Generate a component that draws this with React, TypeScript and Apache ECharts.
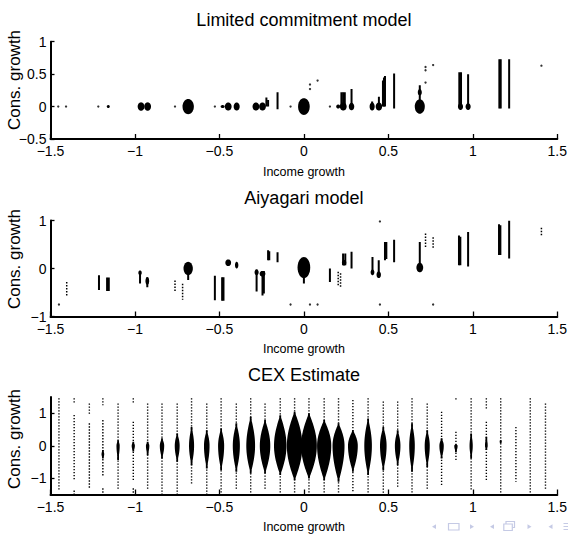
import { useEffect, useRef } from 'react';
import * as echarts from 'echarts';

// ---------- text ----------
const panelTitles = ['Limited commitment model', 'Aiyagari model', 'CEX Estimate'];
const xName = 'Income growth';
const yName = 'Cons. growth';

// ---------- panel 1: limited commitment ----------
// dots [x, y]
const lcDots = [
  [-1.454, 0], [-1.408, 0], [-1.217, 0], [-0.763, 0], [-0.527, 0], [-0.079, 0], [0.154, 0],
  [0.036, 0.34], [0.036, 0.27], [0.081, 0.4], [0.72, 0.61], [0.72, 0.56], [0.765, 0.64],
  [0.72, 0.37], [1.406, 0.63],
];
// blobs [x, y, halfWidth(x units), halfHeight(y units)]
const lcBlobs = [
  [-1.158, 0, 0.009, 0.023], [-0.964, 0, 0.02, 0.065], [-0.925, 0, 0.02, 0.065],
  [-0.685, 0, 0.0335, 0.117], [-0.481, 0, 0.012, 0.023], [-0.448, 0, 0.02, 0.062],
  [-0.398, 0, 0.0178, 0.062], [-0.284, 0, 0.02, 0.062], [-0.245, 0, 0.02, 0.062],
  [0, 0, 0.0345, 0.13], [0.203, 0, 0.0118, 0.031], [0.233, 0, 0.02, 0.062],
  [0.282, 0, 0.016, 0.058], [0.404, 0, 0.015, 0.062], [0.444, 0, 0.019, 0.062],
  [0.686, 0, 0.0296, 0.111], [0.686, 0.22, 0.0118, 0.05], [0.927, 0, 0.015, 0.052],
  [0.972, 0, 0.015, 0.052],
];
// bars [x, low, high]
const lcBars = [
  [-0.222, 0, 0.14], [-0.212, 0, 0.1], [-0.156, -0.04, 0.22], [0.222, 0, 0.22], [0.232, 0, 0.22],
  [0.242, 0, 0.22], [0.282, 0, 0.27], [0.404, 0, 0.08], [0.444, 0, 0.15], [0.468, 0, 0.4],
  [0.474, 0, 0.45], [0.48, 0, 0.47], [0.534, -0.03, 0.51], [0.686, 0, 0.33], [0.92, 0, 0.53],
  [0.93, 0, 0.53], [0.972, 0, 0.5], [1.157, -0.03, 0.73], [1.165, -0.03, 0.73],
  [1.215, -0.03, 0.73],
];

// ---------- panel 2: Aiyagari ----------
const aiDots = [
  [-1.45, -0.75], [-0.079, -0.75], [0.036, -0.75], [0.081, -0.75], [0.45, -0.75],
  [0.45, 0.98], [0.765, -0.75],
];
const aiBlobs = [
  [-0.685, 0, 0.0275, 0.14], [-0.448, 0.12, 0.017, 0.07], [-0.398, 0.07, 0.01, 0.07],
  [-0.97, -0.09, 0.01, 0.05], [-0.927, -0.26, 0.011, 0.08], [-0.28, -0.08, 0.012, 0.06],
  [-0.245, -0.11, 0.017, 0.06], [0, 0.02, 0.0375, 0.22], [0.238, 0.12, 0.013, 0.06],
  [0.406, -0.08, 0.011, 0.06], [0.443, -0.13, 0.013, 0.07], [0.686, 0.02, 0.02, 0.1],
];
const aiBars = [
  [-1.213, -0.45, -0.14], [-1.165, -0.47, -0.19], [-1.155, -0.47, -0.19],
  [-0.97, -0.31, -0.05], [-0.927, -0.39, -0.18], [-0.685, -0.24, -0.05],
  [-0.527, -0.66, -0.15], [-0.484, -0.67, -0.18], [-0.476, -0.67, -0.18],
  [-0.28, -0.48, -0.02], [-0.245, -0.56, -0.05], [-0.237, -0.52, -0.05],
  [-0.212, 0.17, 0.38], [-0.205, 0.17, 0.36], [-0.156, 0.13, 0.34], [0, -0.31, -0.1],
  [0.154, -0.28, 0], [0.232, 0.07, 0.31], [0.245, 0.07, 0.31], [0.282, 0, 0.35],
  [0.406, -0.07, 0.24], [0.443, -0.14, 0.17], [0.48, 0.17, 0.55], [0.488, 0.2, 0.55],
  [0.534, 0.13, 0.6], [0.686, 0.03, 0.55], [0.918, 0.07, 0.69], [0.926, 0.07, 0.66],
  [0.972, 0.04, 0.76], [1.155, 0.28, 0.92], [1.163, 0.28, 0.9], [1.215, 0.21, 1.0],
];
const aiDashes = [
  [-1.404, -0.59, -0.28], [-0.763, -0.47, -0.25], [-0.718, -0.65, -0.32],
  [0.203, -0.35, -0.07], [0.217, -0.38, -0.1], [0.72, 0.45, 0.73], [0.765, 0.42, 0.65],
  [1.406, 0.69, 0.85],
];

// ---------- panel 3: CEX ----------
const cexX = [
  -1.45, -1.36, -1.27, -1.19, -1.1, -1.01, -0.925, -0.84, -0.75, -0.665, -0.575, -0.49,
  -0.4, -0.315, -0.23, -0.14, -0.055, 0.03, 0.12, 0.205, 0.29, 0.38, 0.47, 0.555, 0.64,
  0.73, 0.815, 0.9, 0.99, 1.08, 1.165, 1.255, 1.34, 1.43,
];
const cexSegments = [
  [[-1.36, 1.46]],
  [[1.32, 1.46], [-1.05, 0.95], [-1.49, -1.38]],
  [[0.95, 1.3], [-1.31, 0.69]],
  [[1.25, 1.46], [-0.95, 0.79], [-1.49, -1.31]],
  [[-1.36, 1.3]],
  [[1.3, 1.46], [-1.06, 0.74], [-1.49, -1.31]],
  [[-1.36, 1.3]],
  [[-1.49, 1.3]],
  [[-1.49, 1.3]],
  [[-1.16, 1.46]],
  [[-1.49, 1.3]],
  [[-1.49, 1.46]],
  [[-1.36, 1.3]],
  [[-1.49, 1.46]],
  [[-1.36, 1.3]],
  [[-1.49, 1.46]],
  [[-1.49, 1.46]],
  [[-1.49, 1.46]],
  [[-1.49, 1.46]],
  [[-1.49, 1.46]],
  [[-1.41, 1.41]],
  [[-1.49, 1.46]],
  [[-1.49, 1.36]],
  [[-1.26, 1.36]],
  [[-1.49, 1.46]],
  [[-1.36, 1.3]],
  [[-1.26, 1.05]],
  [[1.4, 1.46], [-0.49, 0.43]],
  [[-1.36, 1.46]],
  [[1.1, 1.46], [-1.06, 0.74]],
  [[-1.49, 1.46]],
  [[-1.11, 0.58]],
  [[-1.49, 1.46]],
  [[-1.36, 1.3]],
];
const cexBlobLo = [
  0, 0, 0, -0.39, -0.44, -0.18, -0.29, -0.39, -0.49, -0.6, -0.7, -0.75, -0.8, -0.85, -0.85,
  -0.9, -1.06, -1.01, -1.06, -1.11, -0.8, -0.9, -0.75, -0.6, -0.8, -0.65, -0.39, -0.2, -0.39,
  -0.13, 0.08, 0, 0, 0,
];
const cexBlobHi = [
  0, 0, 0, -0.13, 0.17, 0.12, 0.12, 0.23, 0.38, 0.58, 0.48, 0.53, 0.69, 0.89, 0.79, 0.94,
  1.05, 1.0, 0.79, 0.69, 0.48, 0.84, 0.58, 0.48, 0.69, 0.48, 0.23, 0.05, 0.38, 0.28, 0.17,
  0, 0, 0,
];
const cexWidth = [
  0, 0, 0, 0.016, 0.019, 0.019, 0.02, 0.026, 0.029, 0.03, 0.033, 0.036, 0.042, 0.052, 0.062,
  0.074, 0.092, 0.093, 0.084, 0.071, 0.058, 0.045, 0.039, 0.033, 0.033, 0.03, 0.026, 0.02,
  0.019, 0.016, 0.013, 0, 0, 0,
];

// ---------- layout ----------
const FONT = 'Liberation Sans, Arial, Helvetica, sans-serif';
const GRID_LEFT = 50.5;
const GRID_W = 506.8;
const gridTops = [41.7, 220.5, 397];
const gridHeights = [97.3, 96, 97.5];
const yMins = [-0.5, -1, -1.5];
const yMaxs = [1, 1, 1.5];
const yIntervals = [0.5, 1, 0.5];
const yCustomTicks = [null, null, [-1, 0, 1]];
const titleTops = [11, 189, 366];
const yNameCenters = [80, 259, 439];

const minus = (v: number) => String(v).replace('-', '\u2212');

const blobRender = (_p: any, api: any) => {
  const c = api.coord([api.value(0), api.value(1)]);
  const s = api.size([api.value(2), api.value(3)]);
  const rx = Math.max(s[0], 0.8);
  const ry = Math.max(s[1], 0.8);
  const pts: number[][] = [];
  for (let k = 0; k < 36; k++) {
    const a = (k / 36) * Math.PI * 2;
    pts.push([c[0] + rx * Math.cos(a), c[1] + ry * Math.sin(a)]);
  }
  return { type: 'polygon', shape: { points: pts }, style: { fill: '#000' } };
};

const barRender = (width: number, dash?: number[]) => (_p: any, api: any) => {
  const a = api.coord([api.value(0), api.value(2)]);
  const b = api.coord([api.value(0), api.value(1)]);
  return {
    type: 'line',
    shape: { x1: a[0], y1: a[1], x2: b[0], y2: b[1] },
    style: { stroke: '#000', lineWidth: width, lineDash: dash || null, fill: null },
  };
};

const cexRender = (params: any, api: any) => {
  const i = params.dataIndex;
  const x = cexX[i];
  const children: any[] = [];
  for (const [lo, hi] of cexSegments[i]) {
    const a = api.coord([x, hi]);
    const b = api.coord([x, lo]);
    children.push({
      type: 'line',
      shape: { x1: a[0], y1: a[1], x2: b[0], y2: b[1] },
      style: { stroke: '#000', lineWidth: 1.4, lineDash: [1.3, 1.7] },
    });
  }
  const w = cexWidth[i];
  if (w > 0) {
    const lo = cexBlobLo[i];
    const hi = cexBlobHi[i];
    const peak = lo < 0 && hi > 0 ? 0 : (lo + hi) / 2;
    const p = api.coord([x, peak]);
    const up = api.size([0, hi - peak])[1];
    const dn = api.size([0, peak - lo])[1];
    const hw = api.size([w / 2, 0])[0];
    const n = 24;
    const right: number[][] = [];
    const left: number[][] = [];
    const prof = (t: number) => Math.max(hw * Math.pow(Math.cos((t * Math.PI) / 2), 0.95), 0.9);
    for (let k = 0; k <= n; k++) {
      const t = 1 - k / n;
      const ww = prof(t);
      const yy = p[1] - t * up;
      right.push([p[0] + ww, yy]);
      left.push([p[0] - ww, yy]);
    }
    for (let k = 1; k <= n; k++) {
      const t = k / n;
      const ww = prof(t);
      const yy = p[1] + t * dn;
      right.push([p[0] + ww, yy]);
      left.push([p[0] - ww, yy]);
    }
    children.push({
      type: 'polygon',
      shape: { points: right.concat(left.reverse()) },
      style: { fill: '#000' },
    });
  }
  return { type: 'group', children };
};

function buildOption() {
  const grid = gridTops.map((top, i) => ({
    left: GRID_LEFT,
    top,
    width: GRID_W,
    height: gridHeights[i],
    containLabel: false,
    outerBoundsMode: 'none',
  }));
  const xAxis = gridTops.map((_t, i) => ({
    type: 'value',
    gridIndex: i,
    min: -1.5,
    max: 1.5,
    interval: 0.5,
    name: xName,
    nameLocation: 'middle',
    nameGap: 26,
    nameTextStyle: { fontSize: 12.5, fontFamily: FONT, color: '#000' },
    axisLine: { show: true, onZero: false, lineStyle: { color: '#000', width: 2 } },
    axisTick: { show: true, inside: true, length: 5, lineStyle: { color: '#000', width: 1.3 } },
    axisLabel: { color: '#000', fontSize: 14, fontFamily: FONT, margin: 5, formatter: minus },
    splitLine: { show: false },
  }));
  const yAxis = gridTops.map((_t, i) => {
    const custom = yCustomTicks[i];
    return {
      type: 'value',
      gridIndex: i,
      min: yMins[i],
      max: yMaxs[i],
      interval: yIntervals[i],
      axisLine: { show: true, onZero: false, lineStyle: { color: '#000', width: 2 } },
      axisTick: {
        show: true,
        inside: true,
        length: 4,
        lineStyle: { color: '#000', width: 1.3 },
        ...(custom ? { customValues: custom } : {}),
      },
      axisLabel: {
        color: '#000',
        fontSize: 14,
        fontFamily: FONT,
        margin: 4,
        formatter: minus,
        ...(custom ? { customValues: custom } : {}),
      },
      splitLine: { show: false },
    };
  });

  const series: any[] = [];
  const addScatter = (data: number[][], gi: number) =>
    series.push({
      type: 'scatter',
      xAxisIndex: gi,
      yAxisIndex: gi,
      data,
      symbol: 'circle',
      symbolSize: 2.3,
      itemStyle: { color: '#000' },
      silent: true,
    });
  const addCustom = (data: number[][], gi: number, renderItem: any) =>
    series.push({
      type: 'custom',
      coordinateSystem: 'cartesian2d',
      xAxisIndex: gi,
      yAxisIndex: gi,
      data,
      encode: { x: 0, y: 1 },
      renderItem,
      clip: true,
      silent: true,
    });

  addScatter(lcDots, 0);
  addCustom(lcBars, 0, barRender(2));
  addCustom(lcBlobs, 0, blobRender);

  addScatter(aiDots, 1);
  addCustom(aiBars, 1, barRender(2));
  addCustom(aiDashes, 1, barRender(1.5, [1.5, 1.5]));
  addCustom(aiBlobs, 1, blobRender);

  addCustom(
    cexX.map((x, i) => [x, cexBlobLo[i], cexBlobHi[i], cexWidth[i]]),
    2,
    cexRender
  );

  const title = panelTitles.map((text, i) => ({
    text,
    left: GRID_LEFT + GRID_W / 2,
    top: titleTops[i],
    textAlign: 'center',
    padding: 0,
    textStyle: { fontSize: 18, fontWeight: 'normal', fontFamily: FONT, color: '#000' },
  }));

  const navColor = '#c5cae5';
  const graphic: any[] = yNameCenters.map((cy) => ({
    type: 'text',
    x: 14,
    y: cy,
    rotation: Math.PI / 2,
    style: {
      text: yName,
      font: 'normal 17px ' + FONT,
      fontSize: 17,
      fontWeight: 'normal',
      fontFamily: FONT,
      fill: '#000',
      align: 'center',
      verticalAlign: 'middle',
      textAlign: 'center',
      textVerticalAlign: 'middle',
    },
  }));
  const tri = (x: number, dir: number) => ({
    type: 'polygon',
    shape: {
      points:
        dir < 0
          ? [[x, 526.7], [x + 4, 524.3], [x + 4, 529.1]]
          : [[x + 4, 526.7], [x, 524.3], [x, 529.1]],
    },
    style: { fill: navColor },
  });
  graphic.push(
    tri(432, -1),
    { type: 'rect', shape: { x: 448.5, y: 523.5, width: 10.5, height: 6.5 }, style: { stroke: navColor, fill: 'none', lineWidth: 1.2 } },
    tri(470, 1),
    tri(490, -1),
    { type: 'rect', shape: { x: 506, y: 521.5, width: 8.5, height: 6 }, style: { stroke: navColor, fill: '#fff', lineWidth: 1.2 } },
    { type: 'rect', shape: { x: 503.8, y: 524, width: 8.5, height: 6.5 }, style: { stroke: navColor, fill: '#fff', lineWidth: 1.2 } },
    tri(527.5, 1),
    tri(548.5, -1),
    { type: 'line', shape: { x1: 563.5, y1: 523.5, x2: 568, y2: 523.5 }, style: { stroke: navColor, lineWidth: 1 } },
    { type: 'line', shape: { x1: 563.5, y1: 526.5, x2: 568, y2: 526.5 }, style: { stroke: navColor, lineWidth: 1 } },
    { type: 'line', shape: { x1: 563.5, y1: 529.5, x2: 568, y2: 529.5 }, style: { stroke: navColor, lineWidth: 1 } }
  );

  return {
    animation: false,
    backgroundColor: '#fff',
    title,
    grid,
    xAxis,
    yAxis,
    series,
    graphic,
  };
}

export default function App() {
  const ref = useRef<HTMLDivElement>(null);
  useEffect(() => {
    if (!ref.current) return;
    const chart = echarts.init(ref.current, undefined, { renderer: 'svg' });
    chart.setOption(buildOption() as any);
    return () => chart.dispose();
  }, []);
  return (
    <div
      ref={ref}
      style={{ position: 'absolute', left: 0, top: 0, width: 568, height: 535, background: '#fff' }}
    />
  );
}
